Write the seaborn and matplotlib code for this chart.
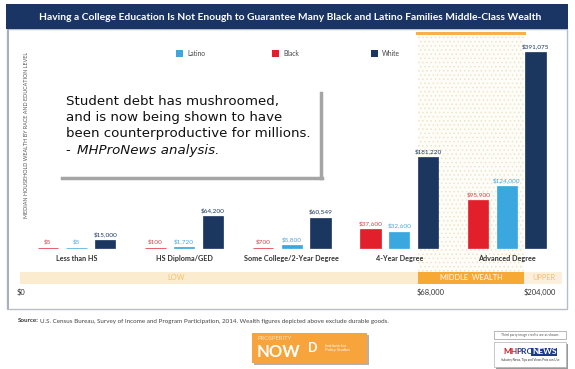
import matplotlib
matplotlib.use("Agg")
import matplotlib.pyplot as plt
from matplotlib.patches import Rectangle
import seaborn as sns
import pandas as pd

# ---------------- data ----------------
categories = ["Less than HS", "HS Diploma/GED", "Some College/2-Year Degree",
              "4-Year Degree", "Advanced Degree"]
races = ["Black", "Latino", "White"]
black = [5, 100, 700, 37600, 95900]
latino = [5, 1720, 5800, 32600, 124000]
white = [15000, 64200, 60549, 181220, 391075]
black_labels = ["$5", "$100", "$700", "$37,600", "$95,900"]
latino_labels = ["$5", "$1,720", "$5,800", "$32,600", "$124,000"]
white_labels = ["$15,000", "$64,200", "$60,549", "$181,220", "$391,075"]
band_labels = ["LOW", "MIDDLE  WEALTH", "UPPER"]
band_ticks = ["$0", "$68,000", "$204,000"]
legend_order = ["Latino", "Black", "White"]

colors = {"Black": "#e2202c", "Latino": "#3aa7de", "White": "#1b365f"}
label_colors = {"Black": "#d8434b", "Latino": "#4aa9d9", "White": "#1b365f"}

df = pd.DataFrame({
    "Education": categories * 3,
    "Race": [r for r in races for _ in categories],
    "Wealth": black + latino + white,
})

plt.rcParams["hatch.linewidth"] = 0.6

W, H = 575, 369
fig = plt.figure(figsize=(W / 100, H / 100), dpi=100)
fig.patch.set_facecolor("white")


def fx(x):
    return x / W


def fy(y):
    return 1 - y / H


def frect(x0, y0, x1, y1, **kw):
    r = Rectangle((fx(x0), fy(y1)), fx(x1) - fx(x0), fy(y0) - fy(y1),
                  transform=fig.transFigure, **kw)
    fig.patches.append(r)
    return r


FONT = "Lato"

# header
frect(6, 4, 568, 29, facecolor="#1a3563", edgecolor="none", zorder=1)
fig.text(fx(290), fy(17), "Having a College Education Is Not Enough to Guarantee Many Black and Latino Families Middle-Class Wealth",
         ha="center", va="center", color="white", fontsize=7.4, fontweight="bold", family=FONT)

# frame
frect(7, 29, 567, 309, facecolor="white", edgecolor="#b9bdc5", lw=1.0, zorder=0)
frect(6.5, 29, 8.5, 309, facecolor="#aab0ba", edgecolor="none", zorder=1)

# middle wealth dotted column
frect(418, 34, 524, 272, facecolor="#fffdf8", edgecolor="#eee3cc", lw=0,
      hatch="....", zorder=1)
fig.add_artist(plt.Line2D([fx(417), fx(524)], [fy(32.5), fy(32.5)],
                          transform=fig.transFigure, color="#f3b24a", lw=2.2, zorder=2))

# bottom bands
frect(20, 272, 418, 284, facecolor="#fbebcf", edgecolor="none", zorder=1)
frect(418, 272, 524, 284, facecolor="#f7a935", edgecolor="none", zorder=1)
frect(524, 272, 562, 284, facecolor="#fcf0dd", edgecolor="none", zorder=1)
fig.text(fx(176), fy(278), band_labels[0], ha="center", va="center", fontsize=5.4,
         color="#f1c36e", family=FONT)
fig.text(fx(471), fy(278), band_labels[1], ha="center", va="center", fontsize=5.4,
         color="white", family=FONT)
fig.text(fx(544), fy(278), band_labels[2], ha="center", va="center", fontsize=5.4,
         color="#f5bd73", family=FONT)
for x, t in zip([17, 417, 524], band_ticks):
    fig.text(fx(x), fy(292), t, ha="left", va="center", fontsize=5.4,
             color="#333333", family=FONT)

# y label
fig.text(fx(27), fy(135), "MEDIAN HOUSEHOLD WEALTH BY RACE AND EDUCATION LEVEL",
         rotation=90, ha="center", va="center", fontsize=3.9, color="#555555", family=FONT)

# ---------------- chart ----------------
base_px, top_px = 248, 29
px_per_dollar = 195.7 / 391075
ax = fig.add_axes([fx(7), fy(base_px + 1), fx(567) - fx(7), fy(top_px) - fy(base_px + 1)])
ax.patch.set_alpha(0)
ax.set_zorder(3)

sns.barplot(data=df, x="Education", y="Wealth", hue="Race", order=categories,
            hue_order=races, palette=colors, width=0.8, gap=0.29, ax=ax,
            legend=False, saturation=1)

for cont, race in zip(ax.containers, races):
    for p in cont.patches:
        p.set_edgecolor(p.get_facecolor())
        p.set_linewidth(0.5)
        p.set_clip_on(False)
    labs = {"Black": black_labels, "Latino": latino_labels, "White": white_labels}[race]
    ax.bar_label(cont, labels=labs, padding=2.2, fontsize=4.6,
                 color=label_colors[race], family=FONT)

xc0, dx = 76.5, 107.6
ax.set_xlim((7 - xc0) / dx, (567 - xc0) / dx)
ax.set_ylim(-1 / px_per_dollar, (base_px - top_px) / px_per_dollar)
ax.set_xticks(range(len(categories)))
ax.set_xticklabels(categories, fontsize=5.2, fontweight="bold", color="#333333", family=FONT)
ax.tick_params(axis="x", length=0, pad=4.2)
ax.set_yticks([])
ax.set_xlabel("")
ax.set_ylabel("")
for s in ax.spines.values():
    s.set_visible(False)

# legend (manual)
leg_x = [176, 272, 371]
for x, race in zip(leg_x, legend_order):
    frect(x, 50, x + 7, 57, facecolor=colors[race], edgecolor="none", zorder=2)
    fig.text(fx(x + 11), fy(53.5), race, ha="left", va="center", fontsize=4.8,
             color="#444444", family=FONT)

# annotation box
fig.add_artist(plt.Line2D([fx(320.5), fx(320.5)], [fy(93), fy(178)],
                          transform=fig.transFigure, color="#a5a5a5", lw=2.5, zorder=4))
fig.add_artist(plt.Line2D([fx(62), fx(321.5)], [fy(177.5), fy(177.5)],
                          transform=fig.transFigure, color="#a5a5a5", lw=2.5, zorder=4))
frect(55, 62, 319, 176, facecolor="white", edgecolor="none", zorder=4)
ann_lines = ["Student debt has mushroomed,",
             "and is now being shown to have",
             "been counterproductive for millions."]
for i, t in enumerate(ann_lines):
    fig.text(fx(66), fy(101 + 16.5 * i), t, ha="left", va="center", fontsize=9.6,
             color="#111111", family="DejaVu Sans", zorder=5)
fig.text(fx(66), fy(150.5), "- ", ha="left", va="center", fontsize=9.6,
         color="#111111", family="DejaVu Sans", zorder=5)
fig.text(fx(77), fy(150.5), "MHProNews analysis.", ha="left", va="center", fontsize=9.6,
         color="#111111", family="DejaVu Sans", style="italic", zorder=5)

# source
fig.text(fx(18), fy(321), "Source:", ha="left", va="center", fontsize=4.5,
         fontweight="bold", color="#333333", family=FONT)
fig.text(fx(39.5), fy(321), "U.S. Census Bureau, Survey of Income and Program Participation, 2014. Wealth figures depicted above exclude durable goods.",
         ha="left", va="center", fontsize=4.5, color="#444444", family=FONT)

# logos
frect(254, 335, 369, 365, facecolor="#b0b0b0", edgecolor="none", zorder=1)
frect(252, 333, 367, 363, facecolor="#f7a43c", edgecolor="none", zorder=2)
fig.text(fx(258), fy(339), "PROSPERITY", ha="left", va="center", fontsize=4.2,
         color="#fde3bd", family=FONT, zorder=3)
fig.text(fx(257), fy(352), "NOW", ha="left", va="center", fontsize=12,
         color="white", fontweight="bold", family=FONT, zorder=3)
fig.text(fx(325), fy(348), "Institute for\nPolicy Studies", ha="left", va="center",
         fontsize=3, color="white", family=FONT, zorder=3, linespacing=1.1)
fig.text(fx(313), fy(348), "D", ha="center", va="center", fontsize=9,
         color="white", fontweight="bold", family=FONT, zorder=3)

frect(494, 331, 566, 339, facecolor="white", edgecolor="#9a9a9a", lw=0.5, zorder=2)
fig.text(fx(530), fy(335), "Third party image credits are as shown.", ha="center",
         va="center", fontsize=2.4, color="#555555", family=FONT, zorder=3)
frect(496, 344, 568, 369, facecolor="#999999", edgecolor="none", zorder=1)
frect(494, 342, 566, 367, facecolor="white", edgecolor="#b0b0b0", lw=0.5, zorder=2)
fig.text(fx(503), fy(352), "MH", ha="left", va="center", fontsize=6,
         color="#c8202c", fontweight="bold", family=FONT, zorder=3)
fig.text(fx(516), fy(352), "PRO", ha="left", va="center", fontsize=6,
         color="#1b3a8c", fontweight="bold", family=FONT, zorder=3)
fig.text(fx(532), fy(352), "NEWS", ha="left", va="center", fontsize=6,
         color="white", fontweight="bold", family=FONT, zorder=3,
         bbox=dict(boxstyle="square,pad=0.1", facecolor="#1b3a8c", edgecolor="none"))
fig.text(fx(530), fy(360), "Industry News, Tips and Views Pros can Use", ha="center",
         va="center", fontsize=2.2, color="#333333", family=FONT, zorder=3)

fig.savefig("out.png", dpi=100)
